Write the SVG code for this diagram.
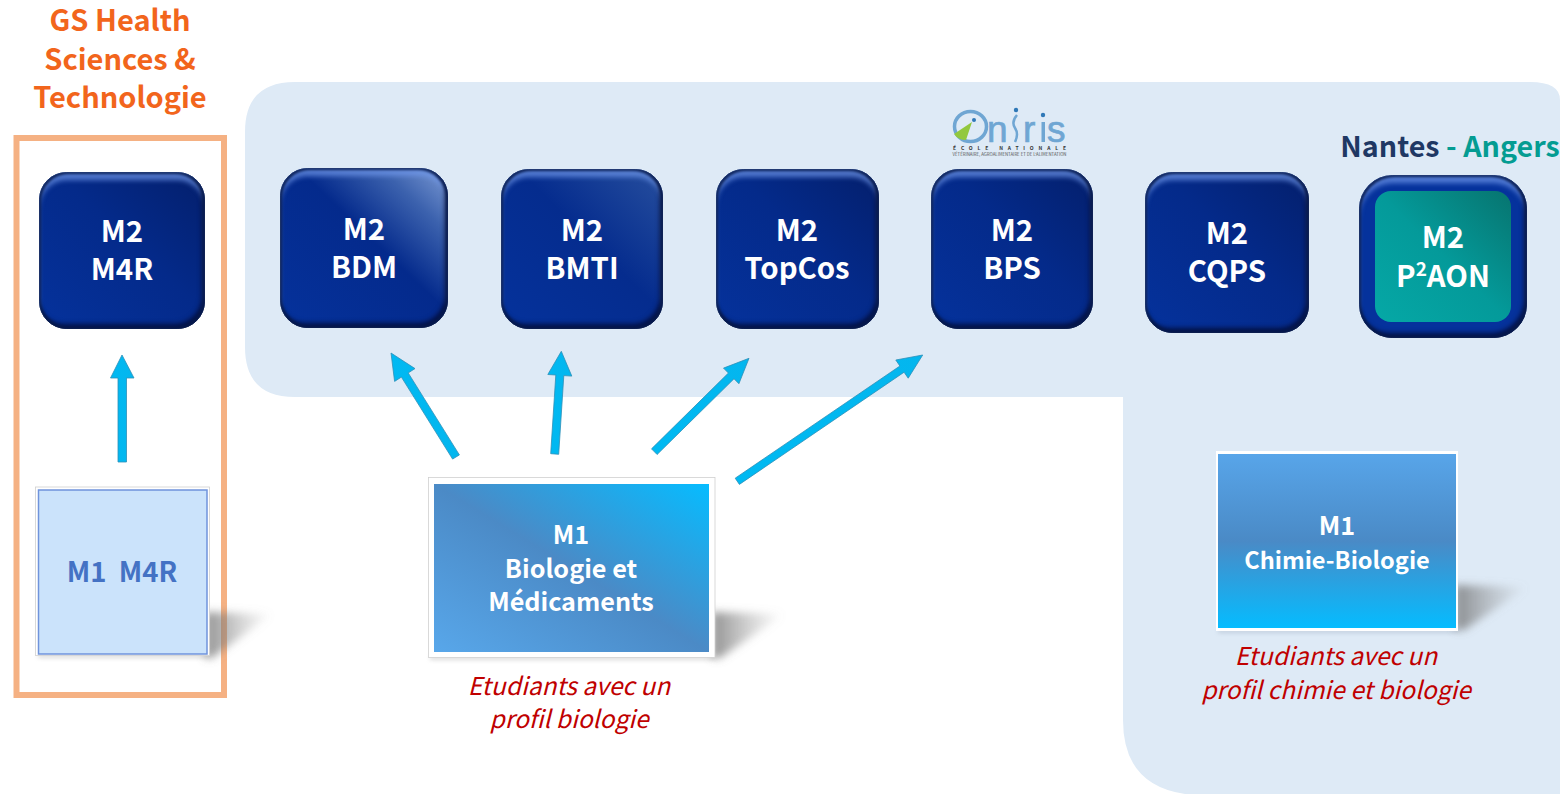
<svg xmlns="http://www.w3.org/2000/svg" width="1560" height="794" viewBox="0 0 1560 794">
<style>
text{font-family:"Noto Sans CJK SC","Noto Sans",sans-serif;text-anchor:middle}
.n{font-weight:700;font-size:29.400px;fill:#fff}
.m{font-weight:700;font-size:25.200px;fill:#fff}
.r{font-style:italic;font-size:24.500px;fill:#c00000}
.o{font-weight:700;font-size:29px;fill:#f2651c}
.a{fill:url(#ag);stroke:#2d8fb8;stroke-width:.8}
.b{filter:url(#bevel);stroke:#2a4478;stroke-opacity:.7;stroke-width:1}
.sh{fill:url(#sg);filter:url(#b3)}
.lg{font-family:"Liberation Sans",sans-serif;font-size:37px;fill:#6fa6d3;stroke:#6fa6d3;stroke-width:.7;text-anchor:start}
</style>
<defs>
<filter id="bevel" x="-5%" y="-5%" width="110%" height="110%" color-interpolation-filters="sRGB">
<feGaussianBlur in="SourceAlpha" stdDeviation="2.500" result="bl"/>
<feOffset in="bl" dx="0" dy="8" result="o1"/>
<feComposite in="SourceAlpha" in2="o1" operator="out" result="top"/>
<feFlood flood-color="#6f98ea" flood-opacity=".7"/>
<feComposite in2="top" operator="in" result="topc"/>
<feOffset in="bl" dx="-3" dy="-5" result="o2"/>
<feComposite in="SourceAlpha" in2="o2" operator="out" result="bot"/>
<feFlood flood-color="#020a33" flood-opacity=".8"/>
<feComposite in2="bot" operator="in" result="botc"/>
<feMorphology in="SourceAlpha" operator="erode" radius="2" result="er"/>
<feGaussianBlur in="er" stdDeviation="1" result="erb"/>
<feComposite in="SourceAlpha" in2="erb" operator="out" result="rim"/>
<feFlood flood-color="#061a4e" flood-opacity=".85"/>
<feComposite in2="rim" operator="in" result="rimc"/>
<feMerge><feMergeNode in="SourceGraphic"/><feMergeNode in="topc"/><feMergeNode in="botc"/><feMergeNode in="rimc"/></feMerge>
</filter>
<filter id="b3" x="-40%" y="-40%" width="180%" height="180%"><feGaussianBlur stdDeviation="4"/></filter>
<filter id="b4" x="-10%" y="-100%" width="120%" height="300%"><feGaussianBlur stdDeviation="2"/></filter>
<linearGradient id="ag" x1="0" y1="0" x2="1" y2="0"><stop offset="0" stop-color="#00b9f2"/><stop offset="1" stop-color="#04b6ee"/></linearGradient>
<linearGradient id="sg" x1="0" y1="0" x2="1" y2="0"><stop offset="0" stop-color="#6d6d6d" stop-opacity=".75"/><stop offset="1" stop-color="#9a9a9a" stop-opacity="0"/></linearGradient>
<linearGradient id="nv" x1="0" y1="1" x2="1" y2="0"><stop offset="0" stop-color="#05329c"/><stop offset=".55" stop-color="#042a8a"/><stop offset="1" stop-color="#041f6c"/></linearGradient>
<linearGradient id="nb" x1="0" y1="1" x2="1" y2="0"><stop offset="0" stop-color="#05329c"/><stop offset=".55" stop-color="#042a8c"/><stop offset=".8" stop-color="#3c62ae"/><stop offset="1" stop-color="#7f9dd6"/></linearGradient>
<linearGradient id="nm" x1="0" y1="1" x2="1" y2="0"><stop offset="0" stop-color="#05329c"/><stop offset=".55" stop-color="#052c8e"/><stop offset="1" stop-color="#274f9e"/></linearGradient>
<linearGradient id="tl" x1="0" y1="1" x2="1" y2="0"><stop offset="0" stop-color="#05a8a6"/><stop offset=".5" stop-color="#049a9a"/><stop offset="1" stop-color="#07746f"/></linearGradient>
<linearGradient id="bio" x1="0" y1="1" x2="1" y2="0"><stop offset="0" stop-color="#58a7ea"/><stop offset=".5" stop-color="#4b8ac6"/><stop offset="1" stop-color="#06bcff"/></linearGradient>
<linearGradient id="chi" x1="0" y1="0" x2="0" y2="1"><stop offset="0" stop-color="#58a5e9"/><stop offset=".5" stop-color="#4a8ac6"/><stop offset="1" stop-color="#05bcff"/></linearGradient>
</defs>
<rect width="1560" height="794" fill="#fff"/>
<path id="background-panel" d="M295 82H1530Q1560 82 1560 100V794H1185Q1123 785 1123 720V397H295Q245 397 245 347V132Q245 82 295 82Z" fill="#deeaf6"/>

<g id="gs-title"><text class="o" x="120" y="31">GS Health</text><text class="o" x="120" y="70">Sciences &amp;</text><text class="o" x="120" y="108">Technologie</text></g>
<rect id="gs-frame" x="16.500" y="138" width="207.500" height="557" fill="none" stroke="#f5b183" stroke-width="6"/>

<g id="m2-m4r"><rect class="b" x="39.500" y="172.500" width="165" height="156" rx="27" fill="url(#nv)"/><text class="n" x="122" y="242">M2</text><text class="n" x="122" y="280">M4R</text></g>
<g id="m2-bdm"><rect class="b" x="280.500" y="168.500" width="167" height="159" rx="27" fill="url(#nb)"/><text class="n" x="364" y="240">M2</text><text class="n" x="364" y="278">BDM</text></g>
<g id="m2-bmti"><rect class="b" x="501.500" y="169.500" width="161" height="159" rx="27" fill="url(#nm)"/><text class="n" x="582" y="241">M2</text><text class="n" x="582" y="279">BMTI</text></g>
<g id="m2-topcos"><rect class="b" x="716.500" y="169.500" width="162" height="159" rx="27" fill="url(#nv)"/><text class="n" x="797" y="241">M2</text><text class="n" x="797" y="279">TopCos</text></g>
<g id="m2-bps"><rect class="b" x="931.500" y="169.500" width="161" height="159" rx="27" fill="url(#nv)"/><text class="n" x="1012" y="241">M2</text><text class="n" x="1012" y="279">BPS</text></g>
<g id="m2-cqps"><rect class="b" x="1145.500" y="172.500" width="163" height="160" rx="27" fill="url(#nv)"/><text class="n" x="1227" y="244">M2</text><text class="n" x="1227" y="282">CQPS</text></g>
<g id="m2-p2aon"><rect class="b" x="1359.500" y="175.500" width="167" height="162" rx="33" fill="#05329c"/><rect x="1375" y="191" width="136" height="131" rx="16" fill="url(#tl)"/><text class="n" x="1443" y="248">M2</text><text class="n" x="1443" y="287">P<tspan font-size="19" dy="-11">2</tspan><tspan dy="11">AON</tspan></text></g>

<g id="location"><text x="1450" y="157" font-weight="700" font-size="28.700" fill="#1f3864">Nantes <tspan fill="#049c92">- Angers</tspan></text></g>

<g id="oniris-logo">
<ellipse cx="970.500" cy="126.500" rx="16" ry="15" fill="none" stroke="#6fa6d3" stroke-width="3.500"/>
<path d="M954 134L972 122L966 140Q958 140 954 134Z" fill="#92c83e"/>
<circle cx="974" cy="120" r="2" fill="#2f78b7"/>
<text class="lg" x="987" y="142">n</text>
<path d="M1017 115Q1011 122 1015 128Q1019 134 1015 142" fill="none" stroke="#6fa6d3" stroke-width="2.500"/>
<circle cx="1016" cy="110" r="2.200" fill="#2f78b7"/>
<text class="lg" x="1023" y="142">r</text>
<rect x="1041.500" y="122" width="3.500" height="20" fill="#6fa6d3"/>
<circle cx="1043" cy="115" r="2.200" fill="#2f78b7"/>
<text class="lg" x="1047" y="142">s</text>
<text x="1009.500" y="150" font-size="5" font-weight="700" fill="#333" textLength="113">ÉCOLE NATIONALE</text>
<text x="1009.500" y="156" font-size="4.500" fill="#555" textLength="114" lengthAdjust="spacingAndGlyphs">VÉTÉRINAIRE, AGROALIMENTAIRE ET DE L'ALIMENTATION</text>
</g>

<g id="connectors">
<polygon class="a" points="118,462 118,378 110.500,378 122,355 134,378 126.500,378 126.500,462"/>
<polygon class="a" points="459.400,454.900 408.200,372.900 415,368.600 391,353 394.600,381.400 401.400,377.100 452.600,459.100"/>
<polygon class="a" points="558.700,454.300 563.800,375.600 571.800,376.100 561.300,351.300 547.800,374.500 555.800,375 550.700,453.700"/>
<polygon class="a" points="657.100,454.500 734,378.750 738.900,383.700 749,358.300 723.500,368.100 728.400,373.050 651.500,448.850"/>
<polygon class="a" points="739.400,484.400 904.100,372.200 908.200,378.200 922.700,355 895.800,360 899.900,366 735.200,478.200"/>
</g>

<g id="m1-m4r">
<polygon class="sh" points="205,612 272,614 212,658 205,658"/>
<rect x="38" y="654" width="170" height="4" fill="#999" opacity=".35" filter="url(#b4)"/>
<rect x="35.500" y="487" width="174" height="168.500" fill="#fff" stroke="#d0d0d0" stroke-width=".8"/>
<rect x="38.500" y="490" width="168.500" height="164" fill="#cbe3fb" stroke="#6f93dc" stroke-width="1.500"/>
<text x="122" y="582" font-weight="700" font-size="27.500" fill="#4472c4" xml:space="preserve">M1  M4R</text>
</g>

<g id="m1-biologie">
<polygon class="sh" points="712,612 784,614 720,658 712,658"/>
<rect x="430" y="656" width="285" height="4" fill="#999" opacity=".35" filter="url(#b4)"/>
<rect x="428.500" y="477.500" width="286.500" height="180" fill="#fff" stroke="#d0d0d0" stroke-width=".8"/>
<rect x="434" y="484" width="275" height="168" fill="url(#bio)"/>
<text class="m" x="571" y="544">M1</text><text class="m" x="571" y="578">Biologie et</text><text class="m" x="571" y="611">Médicaments</text>
</g>
<g id="bio-note"><text class="r" x="569" y="695">Etudiants avec un</text><text class="r" x="569" y="728">profil biologie</text></g>

<g id="m1-chimie">
<polygon class="sh" points="1455,585 1528,587 1464,630 1455,630"/>
<rect x="1218" y="629" width="240" height="4" fill="#8a9bb0" opacity=".35" filter="url(#b4)"/>
<rect x="1216" y="451" width="242" height="180" fill="#fff"/>
<rect x="1218" y="454" width="238" height="174" fill="url(#chi)"/>
<text class="m" x="1337" y="535">M1</text><text x="1337" y="569" font-weight="700" font-size="23.600" fill="#fff">Chimie-Biologie</text>
</g>
<g id="chimie-note"><text class="r" x="1336" y="665">Etudiants avec un</text><text class="r" x="1336" y="699">profil chimie et biologie</text></g>
</svg>
